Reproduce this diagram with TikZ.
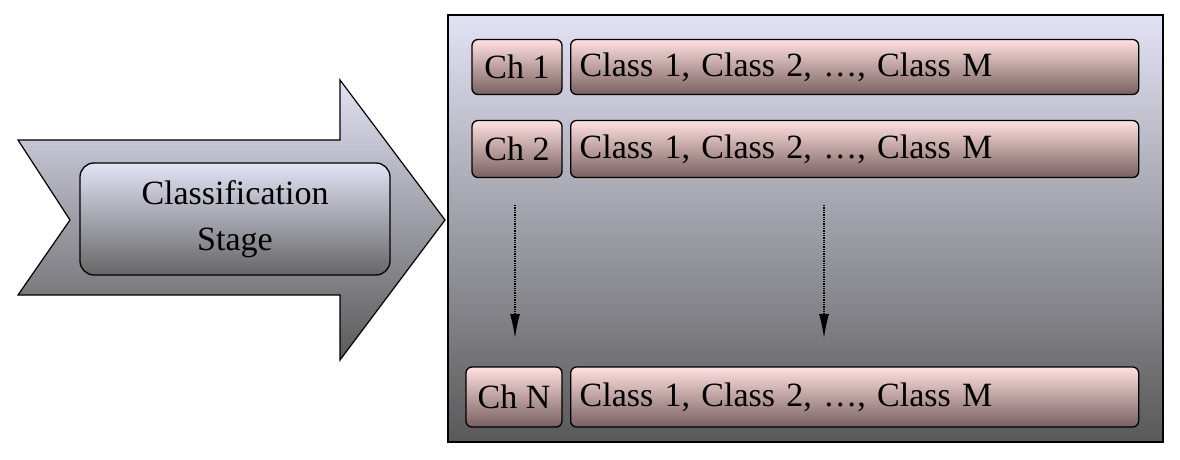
\documentclass[tikz,border=0pt]{standalone}
\usepackage{fontspec}
\setmainfont{Liberation Serif}
\begin{document}
\begin{tikzpicture}[x=1pt,y=-1pt,
  panel/.style={draw=black,line width=1.5pt,top color=blue!8!white!92!gray,bottom color=black!65},
  pink/.style={draw=black,line width=1.3pt,rounded corners=6pt,top color=red!12!white,bottom color=black!60!red!25!gray,font=\fontsize{34}{38}\selectfont,inner sep=0pt},
  dot/.style={densely dotted,line width=1.3pt,-{Latex[length=24pt,width=10pt]}}]
\usetikzlibrary{arrows.meta}
\useasboundingbox (0,0) rectangle (1180,460);
% big arrow
\path[panel,line width=1.2pt] (18,140) -- (340,140) -- (340,80) -- (445,220) -- (340,360) -- (340,295) -- (18,295) -- (70,220) -- cycle;
\node[draw=black,line width=1.3pt,rounded corners=14pt,top color=blue!8!white!92!gray,bottom color=black!60,minimum width=310pt,minimum height=112pt,align=center,font=\fontsize{34}{46}\selectfont] (cs) at (235,219) {Classification\\Stage};
% panel
\path[panel] (448,15) rectangle (1163,442);
\node[pink,minimum width=90pt,minimum height=55pt] (c1) at (517,67) {Ch 1};
\node[pink,minimum width=568pt,minimum height=55pt,anchor=west,text width=550pt,align=left] (k1) at (570,67) {Class 1, Class 2, …, Class M};
\node[pink,minimum width=90pt,minimum height=57pt] (c2) at (517,149) {Ch 2};
\node[pink,minimum width=568pt,minimum height=57pt,anchor=west,text width=550pt,align=left] (k2) at (570,149) {Class 1, Class 2, …, Class M};
\node[pink,minimum width=96pt,minimum height=60pt] (cn) at (514,397) {Ch N};
\node[pink,minimum width=568pt,minimum height=60pt,anchor=west,text width=550pt,align=left] (kn) at (570,397) {Class 1, Class 2, …, Class M};
\coordinate (a1) at (515,205); \coordinate (a2) at (515,338);
\coordinate (b1) at (824,205); \coordinate (b2) at (824,338);
\draw[dot] (a1) -- (a2);
\draw[dot] (b1) -- (b2);
\end{tikzpicture}
\end{document}
